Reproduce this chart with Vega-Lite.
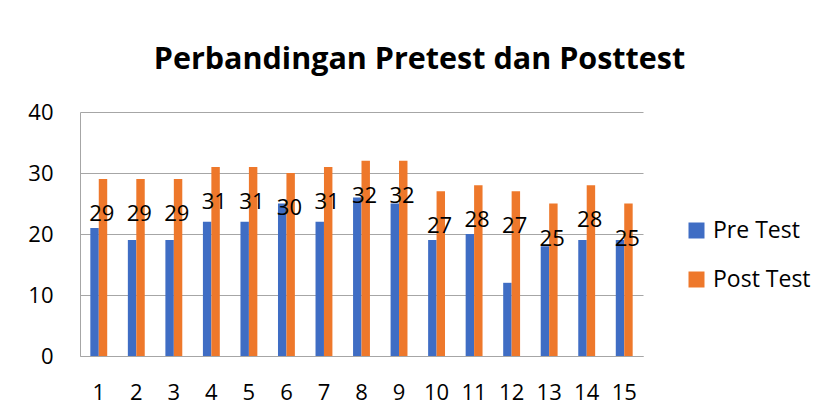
{
  "$schema": "https://vega.github.io/schema/vega-lite/v6.json",
  "autosize": {"type": "none"},
  "width": 563,
  "height": 244,
  "padding": {"left": 80, "top": 112, "right": 177, "bottom": 61},
  "background": "white",
  "title": {
    "text": "Perbandingan Pretest dan Posttest",
    "font": "Open Sans",
    "fontSize": 30.5,
    "fontWeight": "bold",
    "color": "black",
    "anchor": "middle",
    "dx": 58,
    "baseline": "alphabetic",
    "offset": 2
  },
  "config": {
    "view": {"stroke": null},
    "font": "Open Sans"
  },
  "data": {
    "values": [
      {"no": "1", "seri": "Pre Test", "nilai": 21},
      {"no": "2", "seri": "Pre Test", "nilai": 19},
      {"no": "3", "seri": "Pre Test", "nilai": 19},
      {"no": "4", "seri": "Pre Test", "nilai": 22},
      {"no": "5", "seri": "Pre Test", "nilai": 22},
      {"no": "6", "seri": "Pre Test", "nilai": 25},
      {"no": "7", "seri": "Pre Test", "nilai": 22},
      {"no": "8", "seri": "Pre Test", "nilai": 26},
      {"no": "9", "seri": "Pre Test", "nilai": 25},
      {"no": "10", "seri": "Pre Test", "nilai": 19},
      {"no": "11", "seri": "Pre Test", "nilai": 20},
      {"no": "12", "seri": "Pre Test", "nilai": 12},
      {"no": "13", "seri": "Pre Test", "nilai": 18},
      {"no": "14", "seri": "Pre Test", "nilai": 19},
      {"no": "15", "seri": "Pre Test", "nilai": 19},
      {"no": "1", "seri": "Post Test", "nilai": 29},
      {"no": "2", "seri": "Post Test", "nilai": 29},
      {"no": "3", "seri": "Post Test", "nilai": 29},
      {"no": "4", "seri": "Post Test", "nilai": 31},
      {"no": "5", "seri": "Post Test", "nilai": 31},
      {"no": "6", "seri": "Post Test", "nilai": 30},
      {"no": "7", "seri": "Post Test", "nilai": 31},
      {"no": "8", "seri": "Post Test", "nilai": 32},
      {"no": "9", "seri": "Post Test", "nilai": 32},
      {"no": "10", "seri": "Post Test", "nilai": 27},
      {"no": "11", "seri": "Post Test", "nilai": 28},
      {"no": "12", "seri": "Post Test", "nilai": 27},
      {"no": "13", "seri": "Post Test", "nilai": 25},
      {"no": "14", "seri": "Post Test", "nilai": 28},
      {"no": "15", "seri": "Post Test", "nilai": 25}
    ]
  },
  "encoding": {
    "x": {
      "field": "no",
      "type": "ordinal",
      "sort": null,
      "scale": {"paddingInner": 0.55, "paddingOuter": 0.275},
      "axis": {
        "title": null,
        "labelAngle": 0,
        "labelFontSize": 22,
        "labelColor": "black",
        "labelPadding": 26,
        "ticks": false,
        "domainColor": "#a6a6a6",
        "grid": false
      }
    }
  },
  "layer": [
    {
      "mark": {"type": "bar"},
      "encoding": {
        "xOffset": {"field": "seri", "type": "nominal", "sort": ["Pre Test", "Post Test"], "scale": {"padding": 0}},
        "y": {
          "field": "nilai",
          "type": "quantitative",
          "scale": {"domain": [0, 40]},
          "axis": {
            "title": null,
            "values": [0, 10, 20, 30, 40],
            "labelFontSize": 22,
            "labelColor": "black",
            "labelPadding": 27,
            "ticks": false,
            "domain": true,
            "domainColor": "#a6a6a6",
            "gridColor": "#a6a6a6",
            "gridWidth": 1
          }
        },
        "color": {
          "field": "seri",
          "type": "nominal",
          "sort": ["Pre Test", "Post Test"],
          "scale": {"domain": ["Pre Test", "Post Test"], "range": ["#3F6DC4", "#EE782B"]},
          "legend": {
            "title": null,
            "orient": "none",
            "legendX": 605,
            "legendY": 107,
            "symbolType": "square",
            "symbolSize": 256,
            "symbolStrokeWidth": 0,
            "labelFontSize": 23,
            "labelColor": "black",
            "labelOffset": 5,
            "rowPadding": 25
          }
        }
      }
    },
    {
      "transform": [{"filter": "datum.seri == 'Post Test'"}],
      "mark": {"type": "text", "fontSize": 22, "color": "black", "baseline": "middle", "dy": 35, "dx": 3},
      "encoding": {
        "y": {"field": "nilai", "type": "quantitative"},
        "text": {"field": "nilai", "type": "quantitative"}
      }
    }
  ]
}
